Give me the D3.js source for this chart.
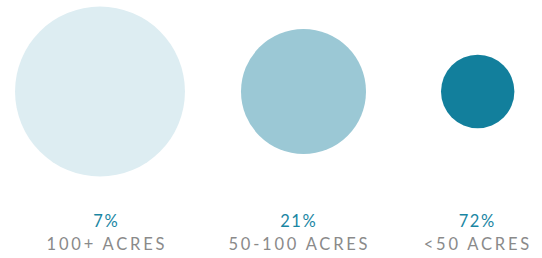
<!DOCTYPE html>
<html>
<head>
<meta charset="utf-8">
<script src="https://cdn.jsdelivr.net/npm/d3@7"></script>
<style>
  html, body { margin: 0; padding: 0; background: #fff; }
  svg { display: block; }
  text { font-family: Lato, "Open Sans", sans-serif; }
</style>
</head>
<body>
<div id="chart"></div>
<script>
// ---- data ----
const categories = ["100+ ACRES", "50-100 ACRES", "<50 ACRES"];
const shares = [7, 21, 72];               // percent labels
const relativeArea = [5.36, 2.9, 1];      // relative circle area
const colors = ["#ddedf2", "#9bc8d5", "#127f9c"];

// ---- layout ----
const W = 542, H = 258;
const svg = d3.select("#chart").append("svg").attr("width", W).attr("height", H);

const xCircle = d3.scaleOrdinal().domain(categories).range([100, 303.5, 477.7]);
const xLabel = d3.scaleOrdinal().domain(categories).range([105.5, 298, 476.5]);
const r = d3.scaleSqrt().domain([0, 1]).range([0, 36.7]);
const color = d3.scaleOrdinal().domain(categories).range(colors);
const cy = 91.5;

const data = categories.map((c, i) => ({ cat: c, share: shares[i], area: relativeArea[i] }));

svg.selectAll("circle.bubble").data(data).join("circle")
  .attr("class", "bubble")
  .attr("cx", d => xCircle(d.cat))
  .attr("cy", cy)
  .attr("r", d => r(d.area))
  .attr("fill", d => color(d.cat));

const pctSpacing = 1.6, catSpacing = 2.8;

svg.selectAll("text.pct").data(data).join("text")
  .attr("class", "pct")
  .attr("x", d => xLabel(d.cat))
  .attr("dx", pctSpacing / 2)
  .attr("y", 226.7)
  .attr("text-anchor", "middle")
  .attr("fill", "#1a86a3")
  .style("font-size", "16.5px")
  .style("letter-spacing", pctSpacing + "px")
  .text(d => d.share + "%");

svg.selectAll("text.cat").data(data).join("text")
  .attr("class", "cat")
  .attr("x", d => xLabel(d.cat))
  .attr("dx", catSpacing / 2)
  .attr("y", 250)
  .attr("text-anchor", "middle")
  .attr("fill", "#8a8a8a")
  .style("font-size", "16.5px")
  .style("letter-spacing", catSpacing + "px")
  .text(d => d.cat);
</script>
</body>
</html>
